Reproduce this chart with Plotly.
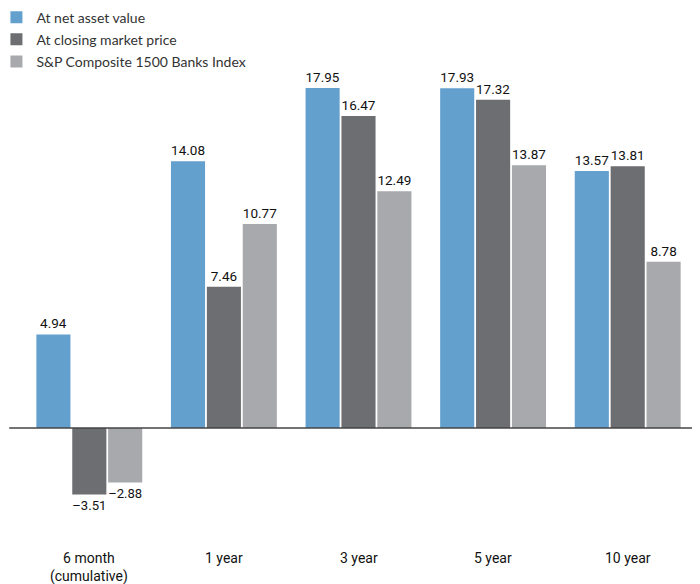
import plotly.graph_objects as go

categories = ["6 month<br>(cumulative)", "1 year", "3 year", "5 year", "10 year"]
series_names = ["At net asset value", "At closing market price", "S&P Composite 1500 Banks Index"]
nav = [4.94, 14.08, 17.95, 17.93, 13.57]
market = [-3.51, 7.46, 16.47, 17.32, 13.81]
index_vals = [-2.88, 10.77, 12.49, 13.87, 8.78]
colors = ["#64A0CE", "#6D6E71", "#A7A9AC"]

FONT = "Roboto, Arial, sans-serif"

def fmt(v):
    return f"{v:.2f}".replace("-", "\u2013")

fig = go.Figure()
x_idx = list(range(len(categories)))
for name, vals, col in zip(series_names, [nav, market, index_vals], colors):
    fig.add_trace(go.Bar(
        x=x_idx, y=vals, name=name, marker=dict(color=col, line=dict(width=0)),
        text=[fmt(v) for v in vals], textposition="outside",
        textfont=dict(family=FONT, size=13.5, color="#111"),
        cliponaxis=False, legendgroup=name,
    ))

for i, c in enumerate(categories):
    fig.add_annotation(x=i, y=-0.09, xref="x", yref="paper", text=c,
                       showarrow=False, yanchor="top", align="center",
                       font=dict(family=FONT, size=14, color="#111"))

fig.add_shape(type="line", xref="paper", yref="y", x0=-0.019, x1=1.02, y0=0, y1=0,
              line=dict(color="#444", width=1.5))

fig.update_layout(
    width=700, height=584,
    margin=dict(l=14, r=13, t=60, b=84, autoexpand=False),
    plot_bgcolor="white", paper_bgcolor="white",
    barmode="group", bargap=0.2, bargroupgap=0.05,
    xaxis=dict(visible=False, range=[-0.5, 4.5]),
    yaxis=dict(visible=False, range=[-4.224, 19.0]),
    showlegend=True,
    legend=dict(x=-0.038, y=1.151, xanchor="left", yanchor="top", traceorder="grouped",
                tracegroupgap=1, font=dict(family="Lato, sans-serif", size=14, color="#333"),
                bgcolor="rgba(0,0,0,0)"),
)

fig.write_html("out.html")
